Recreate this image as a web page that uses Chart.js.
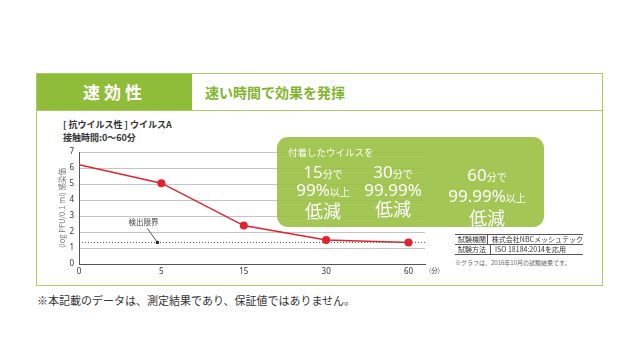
<!DOCTYPE html>
<html lang="ja">
<head>
<meta charset="utf-8">
<script src="https://cdn.jsdelivr.net/npm/chart.js@4"></script>
<style>
  html, body { margin: 0; padding: 0; background: #fff; }
  body { width: 640px; height: 360px; position: relative; overflow: hidden;
         font-family: "Noto Sans CJK JP", "Noto Sans", sans-serif; color: #333; }
  .abs { position: absolute; white-space: nowrap; }
  #frame { left: 36px; top: 73px; width: 565px; height: 211px; border: 1px solid #a9cc69; }
  #head-left { left: 37px; top: 74px; width: 155px; height: 36px; background: #8fbd3a;
               color: #fff; font-weight: bold; font-size: 17px; letter-spacing: 4px;
               line-height: 36px; text-align: center; }
  #head-line { left: 37px; top: 110px; width: 565px; height: 1px; background: #a9cc69; }
  #head-right { left: 205px; top: 74px; line-height: 36px; font-size: 14px; font-weight: bold; color: #82b52e; }
  #title1 { left: 63px; top: 118px; font-size: 9px; line-height: 13px; color: #333; font-weight: bold; }
  #chart-wrap { left: 0; top: 0; width: 640px; height: 360px; z-index: 1; }
  #callout { left: 277px; top: 137px; width: 267px; height: 90px; border-radius: 11px;
             background: rgba(153,192,67,0.9); z-index: 2; color: #fff; }
  .c-lead { left: 11px; top: 8px; font-size: 9.5px; }
  .col { text-align: center; transform: translateX(-50%); }
  .big { font-family: "Noto Sans", sans-serif; font-size: 17px; line-height: 16px; font-weight: 400; }
  .sm { font-family: "Noto Sans CJK JP", sans-serif; font-size: 10px; }
  .red { font-size: 18px; line-height: 20px; font-weight: 400; }
  #table { left: 455px; top: 234px; width: 128px; font-size: 7px; z-index: 2; }
  #table .row { height: 9px; line-height: 9px; border-top: 1px solid #555; display: flex; }
  #table .row:last-child { border-bottom: 1px solid #555; }
  #table .k { width: 32px; padding-left: 3px; border-right: 1px solid #555; }
  #table .v { padding-left: 4px; }
  #note { left: 455px; top: 258px; font-size: 6px; color: #666; }
  #foot { left: 37px; top: 292px; font-size: 11px; color: #333; }
</style>
</head>
<body>
<div class="abs" id="frame"></div>
<div class="abs" id="head-left">速効性</div>
<div class="abs" id="head-line"></div>
<div class="abs" id="head-right">速い時間で効果を発揮</div>
<div class="abs" id="title1">[ 抗ウイルス性 ] ウイルスA<br>接触時間:0〜60分</div>

<div class="abs" id="chart-wrap"><canvas id="chart" width="640" height="360"></canvas></div>

<div class="abs" id="callout">
  <div class="abs c-lead">付着したウイルスを</div>
  <div class="abs col" style="left:46px; top:27px;">
    <div class="big">15<span class="sm">分で</span></div>
    <div class="big">99%<span class="sm">以上</span></div>
    <div class="red">低減</div>
  </div>
  <div class="abs col" style="left:116px; top:27px;">
    <div class="big">30<span class="sm">分で</span></div>
    <div class="big">99.99%</div>
    <div class="red">低減</div>
  </div>
  <div class="abs col" style="left:210px; top:28px;">
    <div class="big" style="line-height:19px">60<span class="sm">分で</span></div>
    <div class="big" style="line-height:19px">99.99%<span class="sm">以上</span></div>
    <div class="red">低減</div>
  </div>
</div>

<div class="abs" id="table">
  <div class="row"><div class="k">試験機関</div><div class="v">株式会社NBCメッシュテック</div></div>
  <div class="row"><div class="k">試験方法</div><div class="v">ISO 18184:2014を応用</div></div>
</div>
<div class="abs" id="note">※グラフは、2016年10月の試験結果です。</div>
<div class="abs" id="foot">※本記載のデータは、測定結果であり、保証値ではありません。</div>

<script>
// contact time (min) and infectivity titre (log PFU/0.1 ml)
const timeLabels = ["0", "5", "15", "30", "60"];
const titre = [6.2, 5.05, 2.4, 1.5, 1.35];
const detectionLimit = 1.35;
const yTicks = [0, 1, 2, 3, 4, 5, 6, 7];

const ctx = document.querySelector("#chart").getContext("2d");

//detection limit line + labels
const limitPlugin = {
  id: "limit",
  afterDatasetsDraw(chart) {
    const { ctx, chartArea, scales } = chart;
    const y = scales.y.getPixelForValue(detectionLimit);
    ctx.save();
    ctx.strokeStyle = "#555";
    ctx.lineWidth = 1;
    ctx.setLineDash([1, 2]);
    ctx.beginPath();
    ctx.moveTo(chartArea.left, y);
    ctx.lineTo(chartArea.right, y);
    ctx.stroke();
    ctx.setLineDash([]);

    const mx = scales.x.getPixelForValue(1) - 4;
    ctx.fillStyle = "#111";
    ctx.fillRect(mx - 1.5, y - 1.5, 3, 3);
    ctx.beginPath();
    ctx.moveTo(mx, y);
    ctx.lineTo(mx - 10, y - 14);
    ctx.stroke();
    ctx.font = '7.5px "Noto Sans CJK JP"';
    ctx.fillStyle = "#444";
    ctx.textAlign = "center";
    ctx.textBaseline = "middle";
    ctx.fillText("検出限界", mx - 14, y - 20);

    ctx.font = '6.5px "Noto Sans CJK JP"';
    ctx.textAlign = "left";
    ctx.fillText("(分)", chartArea.right + 4, chartArea.bottom + 7);
    ctx.restore();
  },
};

new Chart(ctx, {
  type: "line",
  data: {
    datasets: [
      {
        data: titre.map((v, i) => ({ x: i, y: v })),
        borderColor: "#e3222b",
        backgroundColor: "#e3222b",
        borderWidth: 1.5,
        pointRadius: titre.map((v, i) => (i === 0 ? 0 : 4)),
        pointBorderWidth: 0,
        tension: 0,
      },
    ],
  },
  options: {
    responsive: false,
    animation: false,
    layout: { padding: { left: 49, right: 215, top: 152, bottom: 80 } },
    plugins: { legend: { display: false }, tooltip: { enabled: false } },
    scales: {
      x: {
        type: "linear",
        min: 0,
        max: 4.2,
        afterBuildTicks: (s) => { s.ticks = timeLabels.map((_, i) => ({ value: i })); },
        afterFit: (s) => { s.height = 16; },
        grid: { display: false, drawTicks: false },
        border: { color: "#555", width: 1 },
        ticks: {
          padding: 3,
          color: "#333",
          font: { family: "Noto Sans", size: 8 },
          callback: (v) => timeLabels[v],
        },
      },
      y: {
        min: 0,
        max: 7,
        afterBuildTicks: (s) => { s.ticks = yTicks.map((v) => ({ value: v })); },
        afterFit: (s) => { s.width = 30; },
        grid: { color: "#c4c4c4", drawTicks: false },
        border: { color: "#555", width: 1 },
        ticks: { padding: 5, color: "#333", font: { family: "Noto Sans", size: 8 } },
        title: {
          display: true,
          text: "(log PFU/0.1 ml) 感染価",
          color: "#777",
          padding: { top: 9 },
          font: { family: "Noto Sans CJK JP", size: 7.5 },
        },
      },
    },
  },
  plugins: [limitPlugin],
});
</script>
</body>
</html>
